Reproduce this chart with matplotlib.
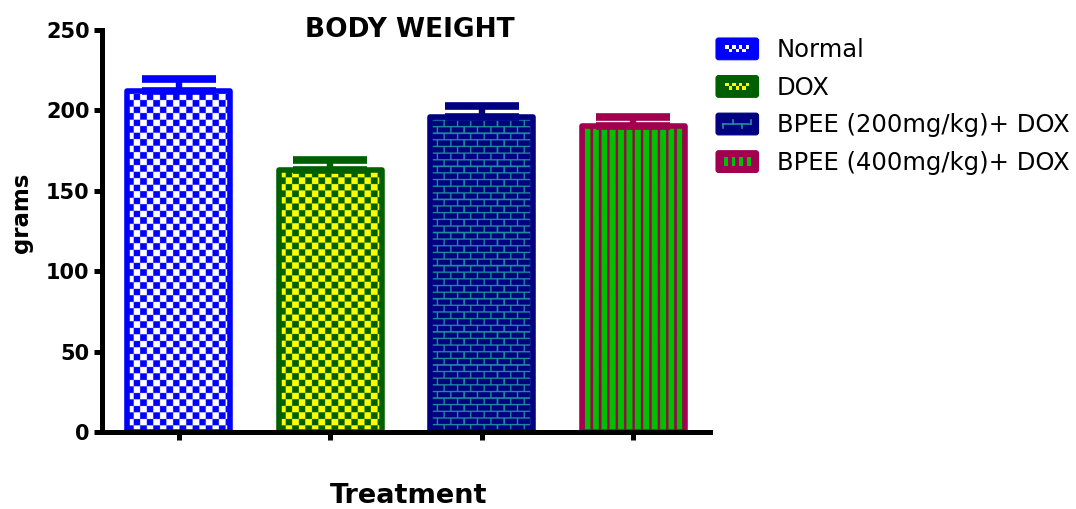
import numpy as np
import matplotlib
matplotlib.use("Agg")
import matplotlib.pyplot as plt
from matplotlib.patches import FancyBboxPatch, Rectangle
from matplotlib.lines import Line2D
from matplotlib.legend_handler import HandlerBase

# ---- data -------------------------------------------------------------
groups = ["Normal", "DOX", "BPEE (200mg/kg)+ DOX", "BPEE (400mg/kg)+ DOX"]
mean_weight = [212, 163, 196, 190]
sem_weight = [7.5, 6, 7, 6]
y_ticks = [0, 50, 100, 150, 200, 250]

# ---- styling per group --------------------------------------------------
edge_colors = ["#0000FF", "#006000", "#000080", "#A0004F"]
base_colors = ["#0000FF", "#006000", "#000080", "#00C000"]
accent_colors = ["#FFFFFF", "#FFFF00", "#1F8FA0", "#A0004F"]
pattern_kinds = ["checker", "checker", "brick", "stripe"]

plt.rcParams["font.family"] = ["DejaVu Sans"]

fig = plt.figure(figsize=(10.76, 5.09), dpi=100)
W_PX, H_PX = 1076, 509
ax = fig.add_axes([102 / W_PX, 1 - 432 / H_PX, (710 - 102) / W_PX, 402 / H_PX])

x = np.arange(len(groups))
bar_width = 0.68
ax.set_xlim(-0.505, 3.505)
ax.set_ylim(0, 250)


def hex_rgb(c):
    return np.array(matplotlib.colors.to_rgb(c))


def pattern_image(kind, w_px, h_px, base, accent, ss=3):
    """Build an RGB fill pattern at ss-times pixel resolution."""
    w, h = int(w_px * ss), int(h_px * ss)
    jj, ii = np.mgrid[0:h, 0:w] / ss  # pixel coords, row 0 at bottom
    if kind == "checker":
        cell = 6.5
        mask = ((np.floor(ii / cell) + np.floor(jj / cell)) % 2) == 1
    elif kind == "brick":
        rh, bw, lw = 6.6, 13.2, 1.4
        row = np.floor(jj / rh)
        horiz = (jj % rh) < lw
        vert = ((ii + (row % 2) * bw / 2) % bw) < lw
        mask = horiz | vert
    else:  # vertical stripes
        period, lw = 8.3, 2.4
        mask = (ii % period) < lw
    img = np.empty((h, w, 3))
    img[:] = hex_rgb(base)
    img[mask] = hex_rgb(accent)
    return img


# outline bars (drawn on top of the pattern fill)
bars = ax.bar(x, mean_weight, width=bar_width, facecolor="none",
              edgecolor=edge_colors, linewidth=4.0, zorder=3)

for bar, kind, base, accent in zip(bars, pattern_kinds, base_colors, accent_colors):
    bar.set_joinstyle("round")
    x0, w, h = bar.get_x(), bar.get_width(), bar.get_height()
    p0 = ax.transData.transform((x0, 0))
    p1 = ax.transData.transform((x0 + w, h))
    img = pattern_image(kind, p1[0] - p0[0], p1[1] - p0[1], base, accent)
    im = ax.imshow(img, extent=(x0, x0 + w, 0, h), origin="lower",
                   aspect="auto", interpolation="antialiased", zorder=2)
    im.set_clip_path(bar)

ax.set_xlim(-0.505, 3.505)
ax.set_ylim(0, 250)

# upper error bars only
for xi, m, s, c in zip(x, mean_weight, sem_weight, edge_colors):
    eb = ax.errorbar(xi, m, yerr=[[0], [s]], fmt="none", ecolor=c,
                     elinewidth=4.6, capsize=26.6, capthick=5.5, zorder=4)
    for cap in eb[1]:
        cap.set_solid_capstyle("round")

# axes styling
for side in ("top", "right"):
    ax.spines[side].set_visible(False)
for side in ("left", "bottom"):
    ax.spines[side].set_linewidth(3.6)
    ax.spines[side].set_color("black")
    ax.spines[side].set_zorder(5)

ax.set_yticks(y_ticks)
ax.set_yticklabels([str(t) for t in y_ticks], fontsize=15, fontweight="bold")
ax.set_xticks(x)
ax.set_xticklabels([""] * len(x))
ax.tick_params(axis="both", direction="out", length=6, width=3.6, color="black")
ax.tick_params(axis="y", pad=3)

fig.text(410 / W_PX, 1 - 37 / H_PX, "BODY WEIGHT", ha="center", va="baseline",
         fontsize=19, fontweight="bold")
fig.text(409 / W_PX, 1 - 503 / H_PX, "Treatment", ha="center", va="baseline",
         fontsize=19.5, fontweight="bold")
fig.text(22 / W_PX, 1 - 213 / H_PX, "grams", ha="center", va="center",
         rotation=90, fontsize=16.5, fontweight="bold")


# ---- legend with small pattern swatches ---------------------------------
class SwatchHandler(HandlerBase):
    def __init__(self, kind, base, edge, accent):
        super().__init__()
        self.kind, self.base, self.edge, self.accent = kind, base, edge, accent

    def create_artists(self, legend, orig_handle, xdescent, ydescent,
                       width, height, fontsize, trans):
        x0, y0 = -xdescent, -ydescent
        r = min(width, height) * 0.12
        box = FancyBboxPatch((x0 + r, y0 + r), width - 2 * r, height - 2 * r,
                             boxstyle=f"round,pad={r}",
                             facecolor=self.edge, edgecolor=self.edge,
                             linewidth=0.8, transform=trans)
        arts = [box]
        cx, cy = x0 + width / 2, y0 + height / 2
        if self.kind == "checker":
            s = height * 0.16
            for k in range(-3, 4):
                for row in (0, 1):
                    if (k + row) % 2 == 0:
                        arts.append(Rectangle((cx + k * s - s / 2, cy - s + row * s), s, s,
                                              facecolor=self.accent, edgecolor="none",
                                              transform=trans))
        elif self.kind == "brick":
            half = width * 0.33
            arts.append(Line2D([cx - half, cx + half], [cy, cy], color=self.accent,
                               lw=1.2, transform=trans))
            for k, xv in enumerate(np.linspace(cx - half, cx + half, 4)):
                sgn = 1 if k % 2 == 0 else -1
                arts.append(Line2D([xv, xv], [cy, cy - sgn * height * 0.18],
                                   color=self.accent, lw=1.2, transform=trans))
        else:
            bw = width * 0.09
            for xv in np.linspace(cx - width * 0.27, cx + width * 0.27, 4):
                arts.append(Rectangle((xv - bw / 2, cy - height * 0.22), bw, height * 0.44,
                                      facecolor=self.base, edgecolor="none",
                                      transform=trans))
        return arts


proxies = [Rectangle((0, 0), 1, 1) for _ in groups]
hmap = {p: SwatchHandler(k, b, e, a) for p, k, b, e, a in
        zip(proxies, pattern_kinds, base_colors, edge_colors, accent_colors)}
fig.legend(proxies, groups, handler_map=hmap, loc="upper left",
           bbox_to_anchor=(716 / W_PX, 1 - 38 / H_PX), frameon=False,
           fontsize=17.5, handlelength=1.75, handleheight=1.0, handletextpad=0.75,
           labelspacing=0.55, borderpad=0, borderaxespad=0)

fig.savefig("out.png", dpi=100)
